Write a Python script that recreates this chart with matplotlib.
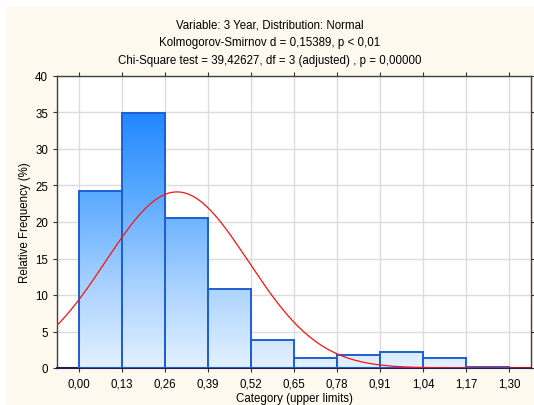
import numpy as np
import matplotlib.pyplot as plt
from matplotlib.patches import Rectangle
from matplotlib.colors import LinearSegmentedColormap

plt.rcParams['font.family'] = ['Liberation Sans', 'DejaVu Sans']

# Histogram data (upper limits of categories, relative frequency in %)
bin_edges = [0.00, 0.13, 0.26, 0.39, 0.52, 0.65, 0.78, 0.91, 1.04, 1.17, 1.30]
rel_freq = [24.25, 34.9, 20.5, 10.8, 3.8, 1.37, 1.78, 2.19, 1.37, 0.18]
tick_labels = ['0,00', '0,13', '0,26', '0,39', '0,52', '0,65', '0,78', '0,91', '1,04', '1,17', '1,30']

# fitted normal curve parameters
fit_mean = 0.297
fit_sd = 0.215
fit_total = 100.0

title_lines = ['Variable: 3 Year, Distribution: Normal',
               'Kolmogorov-Smirnov d = 0,15389, p < 0,01',
               'Chi-Square test = 39,42627, df = 3 (adjusted) , p = 0,00000']

W, H = 534, 406
fs = 8.3
fig = plt.figure(figsize=(W / 100, H / 100), dpi=100, facecolor='white')
# cream background panel
fig.patches.append(Rectangle((6 / W, 0), 1 - 6 / W, 1 - 8 / H, transform=fig.transFigure,
                             facecolor='#FDF9EE', edgecolor='none', zorder=-10))

ax = fig.add_axes([57 / W, 1 - 369 / H, (531 - 57) / W, (369 - 77) / H])
ax.set_facecolor('white')

xmin, xmax = -0.065, 1.365
ymin, ymax = 0, 40

# gradient fill: light at 0, saturated blue at ~35
cmap = LinearSegmentedColormap.from_list('blu', ['#E4F1FF', '#A6D0FF', '#5BAAFF', '#1E86FF'])
grad = np.linspace(0, 1, 256).reshape(-1, 1)
grad_top = 35.5
for i, h in enumerate(rel_freq):
    x0, x1 = bin_edges[i], bin_edges[i + 1]
    im = ax.imshow(grad, extent=(xmin, xmax, 0, grad_top), origin='lower', cmap=cmap,
                   aspect='auto', zorder=2, interpolation='bilinear')
    im.set_clip_path(Rectangle((x0, 0), x1 - x0, h, transform=ax.transData))
    ax.add_patch(Rectangle((x0, 0), x1 - x0, h, facecolor='none', edgecolor='#1E5FD0',
                           linewidth=1.4, zorder=3))

ax.set_xlim(xmin, xmax)
ax.set_ylim(ymin, ymax)

xs = np.linspace(xmin, xmax, 400)
binw = bin_edges[1] - bin_edges[0]
ys = fit_total * binw / (fit_sd * np.sqrt(2 * np.pi)) * np.exp(-(xs - fit_mean) ** 2 / (2 * fit_sd ** 2))
ax.plot(xs, ys, color='#FF1010', linewidth=0.9, zorder=4)

ax.set_xticks(bin_edges)
ax.set_xticklabels(tick_labels)
ax.set_yticks(range(0, 41, 5))
ax.grid(True, color='#DCDCDC', linewidth=1.0, zorder=1)
ax.set_axisbelow(True)
ax.tick_params(axis='both', labelsize=fs, colors='#333333', labelcolor='black', length=3)
ax.tick_params(axis='y', direction='out', right=True)
ax.tick_params(axis='x', direction='out', top=True)
for s in ax.spines.values():
    s.set_color('#404040')
    s.set_linewidth(1.0)
ax.spines['bottom'].set_color('#202050')
ax.spines['bottom'].set_linewidth(1.5)

ax.set_xlabel('Category (upper limits)', fontsize=fs, labelpad=2)
ax.set_ylabel('Relative Frequency (%)', fontsize=fs, labelpad=3)

for k, line in enumerate(title_lines):
    fig.text(270 / W, 1 - (25 + 18 * k) / H, line, ha='center', va='center', fontsize=fs)

fig.savefig('out.png', dpi=100, facecolor=fig.get_facecolor())
